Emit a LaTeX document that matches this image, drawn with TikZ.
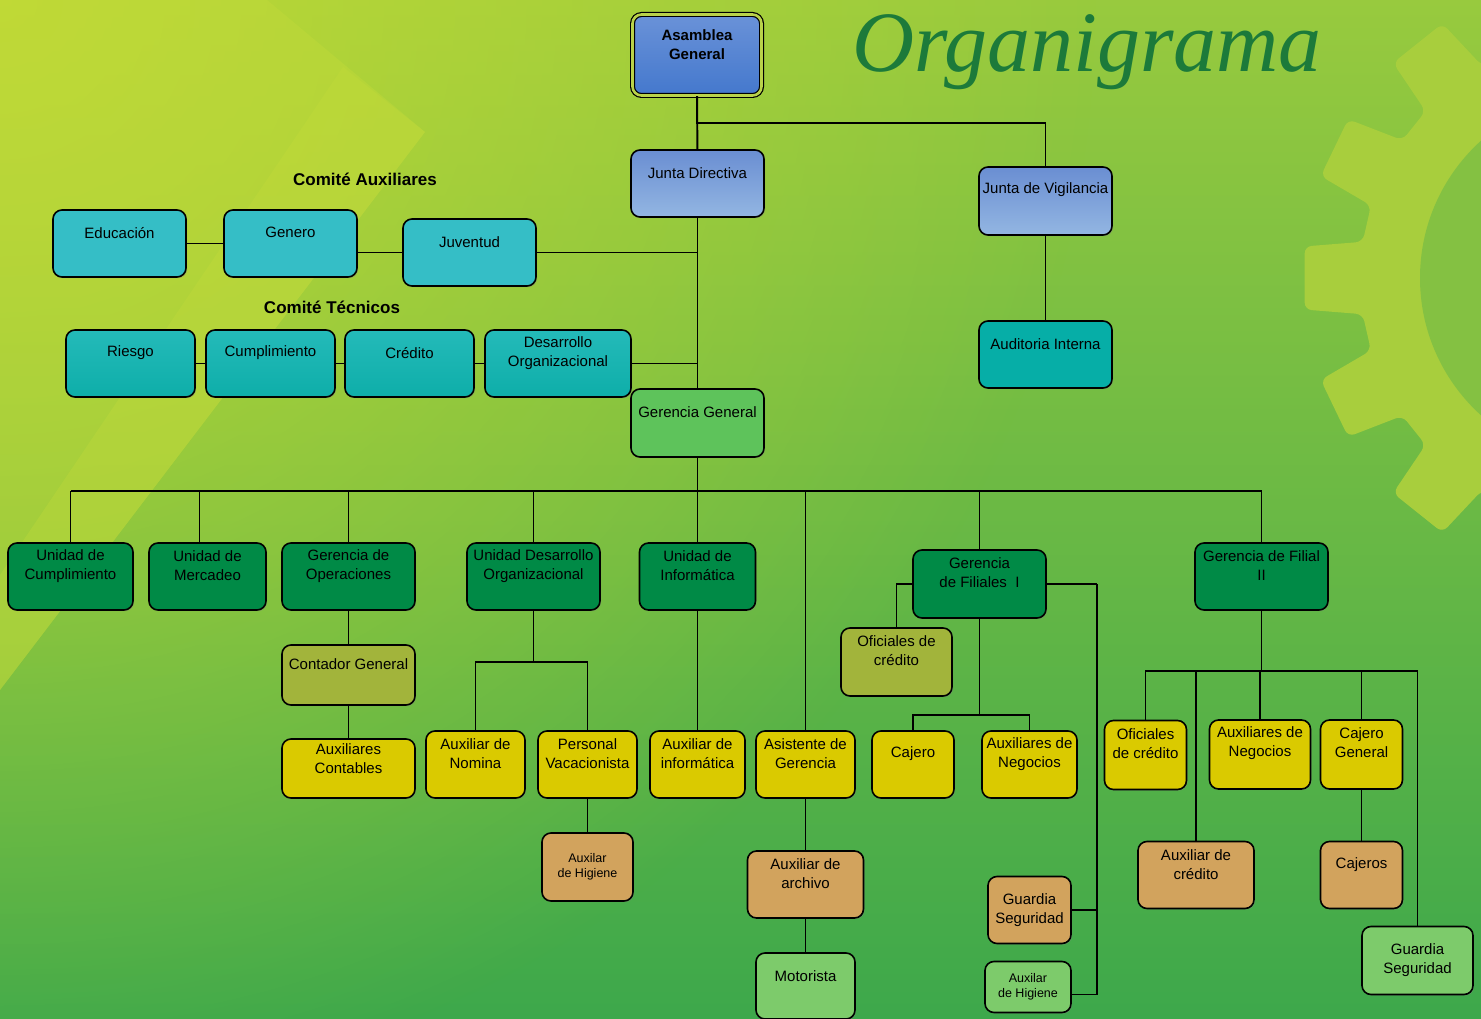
\documentclass[tikz,border=0pt]{standalone}
\usepackage{fontspec}
\setmainfont{Liberation Sans}
\newfontfamily\titlefont{Liberation Serif}
\usetikzlibrary{shadows, fadings}

\definecolor{bgtop}{HTML}{98CA3E}
\definecolor{bgmid}{HTML}{76BB44}
\definecolor{bgbot}{HTML}{3DA84B}
\definecolor{bgyellow}{HTML}{C4DB34}
\definecolor{chevron}{HTML}{C6DC3A}
\definecolor{gearbody}{HTML}{A8CE3D}
\definecolor{gearhole}{HTML}{84C142}
\definecolor{titlegreen}{HTML}{1C7A3A}
\definecolor{bluetop}{HTML}{6A8ED2}
\definecolor{bluebot}{HTML}{93B6E2}
\definecolor{royaltop}{HTML}{6A92D8}
\definecolor{royalbot}{HTML}{4478CD}
\definecolor{ringgreen}{HTML}{B9D24A}
\definecolor{aqua}{HTML}{35BEC6}
\definecolor{tealtop}{HTML}{24BAB9}
\definecolor{tealbot}{HTML}{0EAEA9}
\definecolor{audit}{HTML}{06AEA7}
\definecolor{midgreen}{HTML}{5EC35B}
\definecolor{deepgreen}{HTML}{008A46}
\definecolor{mustard}{HTML}{DACA00}
\definecolor{boxolive}{HTML}{A2B43B}
\definecolor{boxtan}{HTML}{D2A35D}
\definecolor{mint}{HTML}{7DCB6B}

\tikzfading[name=cornerglow, inner color=transparent!15, outer color=transparent!100]

\newcommand{\cardfont}{\fontsize{15}{19}\selectfont}
\newcommand{\tinycard}{\fontsize{12.5}{15}\selectfont}

\tikzstyle{card} = [rectangle, rounded corners=9pt, draw=black, line width=1.6pt, minimum width=133pt, minimum height=67pt, inner sep=1pt, align=center, font=\cardfont, drop shadow={shadow xshift=1.2pt, shadow yshift=-1.2pt, opacity=0.35}]
\tikzstyle{link} = [draw=black, line width=1.9pt]
\tikzstyle{group} = [font=\fontsize{17}{20}\selectfont\bfseries]
\tikzset{txt/.style={label={[anchor=center, yshift=-23.5pt, align=center, font=\cardfont]north:#1}},
 txtup/.style={label={[anchor=center, yshift=-20pt, align=center, font=\cardfont]north:#1}}}

\begin{document}
\begin{tikzpicture}[x=1pt, y=-1pt]
 \useasboundingbox (0,0) rectangle (1481,1019);
 % background
 \shade [top color=bgtop, middle color=bgmid, bottom color=bgbot] (0,0) rectangle (1481,1019);
 \begin{scope}
  \clip (0,0) rectangle (1481,1019);
  \fill [bgyellow, path fading=cornerglow] (0,0) circle (1100);
  \fill [chevron, opacity=0.35] (0,0) -- (267,0) -- (425,132) -- (0,690) -- cycle;
  \fill [chevron, opacity=0.3] (343,67) -- (425,132) -- (0,690) -- (0,575) -- cycle;
  \begin{scope}[shift={(1605,278)}]
   \fill [gearbody, rounded corners=7pt] (-8:245)
     \foreach \i in {0,...,13} { -- ({\i*25.7143-8.5}:245) -- ({\i*25.7143-6}:302) -- ({\i*25.7143+6}:302) -- ({\i*25.7143+8.5}:245) } -- cycle;
   \fill [gearhole] (0,0) circle (185);
  \end{scope}
 \end{scope}

 \node (orgtitle) [anchor=base, text=titlegreen, font=\titlefont\itshape\fontsize{86}{86}\selectfont] at (1087,72) {Organigrama};

 % top
 \node (ag) [card, double=ringgreen, double distance=2.6pt, line width=1.2pt, minimum width=129pt, minimum height=81pt, top color=royaltop, bottom color=royalbot, label={[anchor=center, yshift=-31pt, align=center, font=\cardfont\bfseries]north:Asamblea\\General}] at (697,55) {};
 \node (jd) [card, top color=bluetop, bottom color=bluebot, txt={Junta Directiva}] at (697.5,183.5) {};
 \node (jv) [card, top color=bluetop, bottom color=bluebot, minimum height=68pt, txt={Junta de Vigilancia}] at (1045.5,201) {};
 \node (ai) [card, fill=audit, txt={Auditoria Interna}] at (1045.5,354.5) {};

 % comites
 \node (comaux) [group] at (365,179) {Comité Auxiliares};
 \node (edu) [card, fill=aqua, txt={Educación}] at (119.5,243.5) {};
 \node (gen) [card, fill=aqua, txt={Genero}] at (290.5,243.5) {};
 \node (juv) [card, fill=aqua, txt={Juventud}] at (469.5,252.5) {};
 \node (comtec) [group] at (332,307) {Comité Técnicos};
 \node (rie) [card, top color=tealtop, bottom color=tealbot, minimum width=129pt, txt={Riesgo}] at (130.5,363.5) {};
 \node (cum) [card, top color=tealtop, bottom color=tealbot, minimum width=129pt, txt={Cumplimiento}] at (270.5,363.5) {};
 \node (cre) [card, top color=tealtop, bottom color=tealbot, minimum width=129pt, txt={Crédito}] at (409.5,363.5) {};
 \node (deso) [card, top color=tealtop, bottom color=tealbot, minimum width=146pt, txt={Desarrollo\\Organizacional}] at (558,363.5) {};
 \node (gg) [card, fill=midgreen, minimum height=68pt, txt={Gerencia General}] at (697.5,423) {};

 % gerencias
 \node (ucum) [card, fill=deepgreen, minimum width=125pt, txt={Unidad de\\Cumplimiento}] at (70.5,576.5) {};
 \node (umer) [card, fill=deepgreen, minimum width=117pt, txt={Unidad de\\Mercadeo}] at (207.5,576.5) {};
 \node (gop) [card, fill=deepgreen, txt={Gerencia de\\Operaciones}] at (348.5,576.5) {};
 \node (udo) [card, fill=deepgreen, txt={Unidad Desarrollo\\Organizacional}] at (533.5,576.5) {};
 \node (uinf) [card, fill=deepgreen, minimum width=116pt, txt={Unidad de\\Informática}] at (697.5,576.5) {};
 \node (gfi) [card, fill=deepgreen, minimum height=68pt, txt={Gerencia\\de Filiales~ I}] at (979.5,584) {};
 \node (gfii) [card, fill=deepgreen, txt={Gerencia de Filial\\II}] at (1261.5,576.5) {};

 % personal
 \node (cont) [card, fill=boxolive, minimum height=60pt, txtup={Contador General}] at (348.5,675) {};
 \node (auxc) [card, fill=mustard, minimum height=59pt, txtup={Auxiliares\\Contables}] at (348.5,768.5) {};
 \node (auxn) [card, fill=mustard, minimum width=99pt, txt={Auxiliar de\\Nomina}] at (475.5,764.5) {};
 \node (pvac) [card, fill=mustard, minimum width=99pt, txt={Personal\\Vacacionista}] at (587.5,764.5) {};
 \node (higa) [card, fill=boxtan, minimum width=91pt, minimum height=68pt, font=\tinycard] at (587.5,867) {Auxilar\\de Higiene};
 \node (auxi) [card, fill=mustard, minimum width=95pt, txt={Auxiliar de\\informática}] at (697.5,764.5) {};
 \node (asis) [card, fill=mustard, minimum width=99pt, txt={Asistente de\\Gerencia}] at (805.5,764.5) {};
 \node (arch) [card, fill=boxtan, minimum width=116pt, txt={Auxiliar de\\archivo}] at (805.5,884.5) {};
 \node (moto) [card, fill=mint, minimum width=99pt, minimum height=66pt, txt={Motorista}] at (805.5,986) {};
 \node (ofia) [card, fill=boxolive, minimum width=111pt, minimum height=68pt, txt={Oficiales de\\crédito}] at (896.5,662) {};
 \node (caja) [card, fill=mustard, minimum width=82pt, txt={Cajero}] at (913,764.5) {};
 \node (anega) [card, fill=mustard, minimum width=95pt, txt={Auxiliares de\\Negocios}] at (1029.5,764.5) {};
 \node (guaa) [card, fill=boxtan, minimum width=83pt] at (1029.5,910) {Guardia\\Seguridad};
 \node (higb) [card, fill=mint, minimum width=86pt, minimum height=51pt, font=\tinycard] at (1028,987) {Auxilar\\de Higiene};
 \node (ofib) [card, fill=mustard, minimum width=82pt, minimum height=69pt, txt={Oficiales\\de crédito}] at (1145.5,755) {};
 \node (anegb) [card, fill=mustard, minimum width=101pt, minimum height=69pt, txt={Auxiliares de\\Negocios}] at (1260,754.5) {};
 \node (cgen) [card, fill=mustard, minimum width=82pt, minimum height=69pt, txt={Cajero\\General}] at (1361.5,754.5) {};
 \node (acre) [card, fill=boxtan, minimum width=116pt, txt={Auxiliar de\\crédito}] at (1196,875) {};
 \node (cajs) [card, fill=boxtan, minimum width=82pt, txt={Cajeros}] at (1361.5,875) {};
 \node (guab) [card, fill=mint, minimum width=111pt, minimum height=68pt] at (1417.5,960.5) {Guardia\\Seguridad};

 % lines
 \draw [link] (ag) -- (jd);
 \draw [link] (ag.south) -- ++(0,27) -| (jv.north);
 \draw [link] (jv) -- (ai);
 \draw [link] (jd) -- (gg);
 \draw [link] (edu) -- (gen);
 \draw [link] (gen.east |- juv) -- (juv);
 \draw [link] (juv) -- (juv -| jd);
 \draw [link] (rie) -- (cum);
 \draw [link] (cum) -- (cre);
 \draw [link] (cre) -- (deso);
 \draw [link] (deso) -- (deso -| gg);

 \coordinate (bus) at (697.5,491);
 \draw [link] (gg) -- (bus);
 \draw [link] (bus -| ucum) -- (bus -| gfii);
 \foreach \n in {ucum,gop,udo,uinf,asis,gfi,gfii}
  \draw [link] (bus -| \n) -- (\n);
 \coordinate (umerin) at ([xshift=-8pt]umer.north);
 \draw [link] (bus -| umerin) -- (umerin);

 \draw [link] (gop) -- (cont);
 \draw [link] (cont) -- (auxc);
 \draw [link] (udo.south) -- ++(0,51) coordinate (udoj);
 \draw [link] (auxn.north) |- (udoj) -| (pvac.north);
 \draw [link] (pvac) -- (higa);
 \draw [link] (uinf) -- (auxi);
 \draw [link] (asis) -- (arch);
 \draw [link] (arch) -- (moto);

 \draw [link] (gfi.west) -| (ofia.north);
 \draw [link] (gfi.south) -- ++(0,96) coordinate (gfij);
 \draw [link] (caja.north) |- (gfij) -| (anega.north);
 \draw [link] (gfi.east) -- ++(50,0) coordinate (gfie);
 \draw [link] (gfie) |- ([yshift=-7.5pt]higb.east);
 \draw [link] (guaa.east) -- (guaa.east -| gfie);

 \draw [link] (gfii.south) -- ++(0,60.5) coordinate (filj);
 \draw [link] (ofib.north) |- (filj) -| (guab.north);
 \foreach \n in {acre,anegb,cgen}
  \draw [link] (filj -| \n) -- (\n);
 \draw [link] (cgen) -- (cajs);
\end{tikzpicture}
\end{document}
